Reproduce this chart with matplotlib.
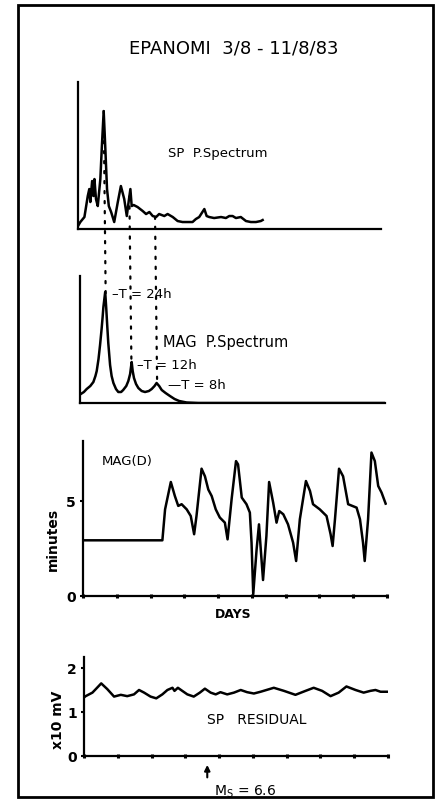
import matplotlib.pyplot as plt
from matplotlib.patches import Rectangle, ConnectionPatch
import numpy as np

# SP power spectrum (frequency in cycles/day, arbitrary power)
sp_freq = [0.0, 0.09, 0.25, 0.38, 0.44, 0.48, 0.55, 0.60, 0.64, 0.70, 0.77, 0.87, 0.93, 1.00, 1.06, 1.13,
           1.20, 1.29, 1.41, 1.55, 1.67, 1.80, 1.90, 1.97, 2.04, 2.09, 2.17, 2.32, 2.52, 2.65, 2.78, 2.91,
           3.04, 3.16, 3.36, 3.49, 3.69, 3.88, 4.07, 4.27, 4.46, 4.59, 4.72, 4.92, 5.01, 5.11, 5.30, 5.57,
           5.76, 5.89, 6.02, 6.15, 6.34, 6.54, 6.73, 6.93, 7.12, 7.19]
sp_power = [3, 7, 12, 33, 40, 27, 48, 33, 50, 30, 23, 50, 83, 118, 83, 40,
            23, 17, 7, 27, 43, 30, 13, 27, 40, 23, 24, 22, 18, 15, 17, 13,
            12, 15, 13, 15, 12, 8, 7, 7, 7, 10, 12, 20, 13, 12, 11, 12,
            11, 13, 13, 11, 12, 8, 7, 7, 8, 9]

# MAG power spectrum
mag_freq = [0.03, 0.15, 0.26, 0.40, 0.52, 0.60, 0.65, 0.72, 0.78, 0.84, 0.88, 0.91, 0.98, 1.02, 1.06,
            1.10, 1.17, 1.23, 1.30, 1.40, 1.49, 1.60, 1.68, 1.80, 1.88, 1.95, 2.01, 2.05, 2.10, 2.18,
            2.27, 2.40, 2.53, 2.68, 2.79, 2.90, 2.98, 3.08, 3.18, 3.33, 3.50, 3.68, 3.86, 4.15, 4.60, 11.85]
mag_power = [9, 11, 14, 17, 21, 27, 32, 44, 58, 74, 86, 96, 111, 95, 77,
             60, 38, 27, 20, 14, 11, 11, 13, 17, 22, 29, 41, 32, 25, 19,
             15, 12, 11, 12, 14, 17, 20, 17, 13, 10, 7, 4, 2, 0.5, 0, 0]

periods = [24, 12, 8]  # hours
period_labels = ["–T = 24h", "–T = 12h", "—T = 8h"]

# MAG(D) declination, minutes
mag_days = [0, 2.35, 2.43, 2.60, 2.72, 2.82, 2.92, 3.07, 3.19, 3.29, 3.36, 3.51, 3.61, 3.71, 3.81, 3.93,
            4.05, 4.20, 4.28, 4.40, 4.53, 4.59, 4.70, 4.84, 4.94, 4.99, 5.04, 5.14, 5.21, 5.27, 5.33,
            5.43, 5.51, 5.63, 5.73, 5.81, 5.93, 6.07, 6.22, 6.31, 6.42, 6.60, 6.72, 6.81, 7.01, 7.21,
            7.33, 7.39, 7.46, 7.58, 7.70, 7.85, 8.10, 8.20, 8.29, 8.34, 8.44, 8.54, 8.64, 8.74, 8.84, 8.96]
mag_d = [2.93, 2.93, 4.56, 6.0, 5.26, 4.74, 4.83, 4.56, 4.21, 3.25, 4.21, 6.7, 6.3, 5.6, 5.26, 4.56,
         4.13, 3.86, 2.98, 5.1, 7.1, 6.93, 5.18, 4.83, 4.39, 2.8, 0.09, 2.46, 3.77, 2.28, 0.84,
         3.16, 6.0, 4.91, 3.86, 4.47, 4.3, 3.77, 2.81, 1.84, 4.04, 6.05, 5.53, 4.83, 4.56, 4.21,
         3.25, 2.63, 4.04, 6.7, 6.3, 4.83, 4.65, 4.04, 2.81, 1.84, 4.04, 7.55, 7.1, 5.79, 5.44, 4.86]

# SP residual, x10 mV
sp_days = [0.0, 0.05, 0.25, 0.35, 0.51, 0.69, 0.89, 1.09, 1.28, 1.48, 1.63, 1.78, 1.97, 2.14, 2.32, 2.47,
           2.62, 2.68, 2.78, 2.91, 3.06, 3.25, 3.43, 3.58, 3.75, 3.90, 4.04, 4.24, 4.44, 4.64, 4.83, 5.03,
           5.23, 5.62, 5.92, 6.26, 6.56, 6.80, 7.05, 7.30, 7.54, 7.77, 8.04, 8.28, 8.48, 8.63, 8.78, 8.98]
sp_res = [1.33, 1.36, 1.44, 1.52, 1.65, 1.52, 1.35, 1.39, 1.36, 1.40, 1.50, 1.44, 1.35, 1.31, 1.40, 1.50,
          1.55, 1.48, 1.55, 1.48, 1.40, 1.35, 1.44, 1.53, 1.44, 1.40, 1.45, 1.40, 1.44, 1.50, 1.45, 1.42,
          1.46, 1.55, 1.48, 1.39, 1.48, 1.55, 1.48, 1.36, 1.44, 1.58, 1.50, 1.44, 1.48, 1.50, 1.46, 1.46]

day_ticks = list(range(10))
quake_day = 3.65
quake_label = r"$\mathrm{M_S}$ = 6.6"

LW = 1.8
SLW = 1.6

fig = plt.figure(figsize=(4.46, 8.04), dpi=100)
fig.patches.append(Rectangle((0.040, 0.007), 0.931, 0.986, transform=fig.transFigure,
                             fill=False, lw=2, color='k'))
fig.text(0.525, 0.940, "EPANOMI  3/8 - 11/8/83", ha='center', va='center', fontsize=13)

ax1 = fig.add_axes([0.1749, 0.7139, 0.6794, 0.1828])
ax2 = fig.add_axes([0.1794, 0.4975, 0.6839, 0.1580])
ax3 = fig.add_axes([0.1861, 0.2575, 0.6816, 0.1928])
ax4 = fig.add_axes([0.1883, 0.0585, 0.6816, 0.1231])

for ax in (ax1, ax2, ax3, ax4):
    ax.spines['top'].set_visible(False)
    ax.spines['right'].set_visible(False)
    ax.spines['left'].set_linewidth(SLW)
    ax.spines['bottom'].set_linewidth(SLW)
    ax.patch.set_alpha(0)

# panel 1
ax1.plot(sp_freq, sp_power, color='k', lw=LW)
ax1.set_xlim(0, 11.8)
ax1.set_ylim(0, 147)
ax1.set_xticks([])
ax1.set_yticks([])
ax1.text(0.297, 0.524, "SP  P.Spectrum", transform=ax1.transAxes, ha='left', va='center', fontsize=9.5)

# panel 2
ax2.plot(mag_freq, mag_power, color='k', lw=LW)
ax2.set_xlim(0, 11.87)
ax2.set_ylim(0, 127)
ax2.set_xticks([])
ax2.set_yticks([])
ax2.text(0.272, 0.488, "MAG  P.Spectrum", transform=ax2.transAxes, ha='left', va='center', fontsize=10.5)

offsets = [(4.5, 4.5), (4.2, -0.5), (8, -0.5)]
for T, lab, off in zip(periods, period_labels, offsets):
    f = 24.0 / T
    y_top = np.interp(f, sp_freq, sp_power)
    y_bot = np.interp(f, mag_freq, mag_power)
    con = ConnectionPatch(xyA=(f, y_top), coordsA=ax1.transData,
                          xyB=(f, y_bot + 2), coordsB=ax2.transData,
                          color='k', lw=1.6, linestyle=(0, (1, 3.5)))
    fig.add_artist(con)
    ax2.annotate(lab, xy=(f, y_bot), xytext=off, textcoords='offset points',
                 ha='left', va='center', fontsize=9.5)

# panel 3
ax3.plot(mag_days, mag_d, color='k', lw=LW)
ax3.set_xlim(0, 9)
ax3.set_ylim(0, 8.16)
ax3.set_xticks(day_ticks)
ax3.set_xticklabels([])
ax3.tick_params(axis='x', direction='inout', length=3, width=2.2)
ax3.set_yticks([0, 5])
ax3.set_yticklabels(['0', '5'], fontweight='bold', fontsize=10)
ax3.tick_params(axis='y', length=2, width=1.5, pad=3)
ax3.text(0.0625, 0.871, "MAG(D)", transform=ax3.transAxes, ha='left', va='center', fontsize=9.5)
ax3.text(0.493, -0.116, "DAYS", transform=ax3.transAxes, ha='center', va='center',
         fontsize=9, fontweight='bold')
ax3.text(-0.099, 0.368, "minutes", transform=ax3.transAxes, ha='center', va='center',
         rotation=90, fontsize=10, fontweight='bold')

# panel 4
ax4.plot(sp_days, sp_res, color='k', lw=LW)
ax4.set_xlim(0, 9)
ax4.set_ylim(0, 2.25)
ax4.set_xticks(day_ticks)
ax4.set_xticklabels([])
ax4.tick_params(axis='x', direction='inout', length=3, width=2.2)
ax4.set_yticks([0, 1, 2])
ax4.set_yticklabels(['0', '1', '2'], fontweight='bold', fontsize=10)
ax4.tick_params(axis='y', length=2, width=1.5, pad=3)
ax4.text(0.569, 0.374, "SP   RESIDUAL", transform=ax4.transAxes, ha='center', va='center', fontsize=10)
ax4.text(-0.086, 0.374, "x10 mV", transform=ax4.transAxes, ha='center', va='center',
         rotation=90, fontsize=10, fontweight='bold')
ax4.annotate('', xy=(quake_day, -0.14), xytext=(quake_day, -0.55),
             arrowprops=dict(arrowstyle='-|>', lw=1.5, color='k', mutation_scale=8),
             annotation_clip=False)
ax4.annotate(quake_label, xy=(quake_day, 0), xytext=(4.5, -25), textcoords='offset points',
             ha='left', va='center', fontsize=10, annotation_clip=False)

fig.savefig("out.png", dpi=100)
